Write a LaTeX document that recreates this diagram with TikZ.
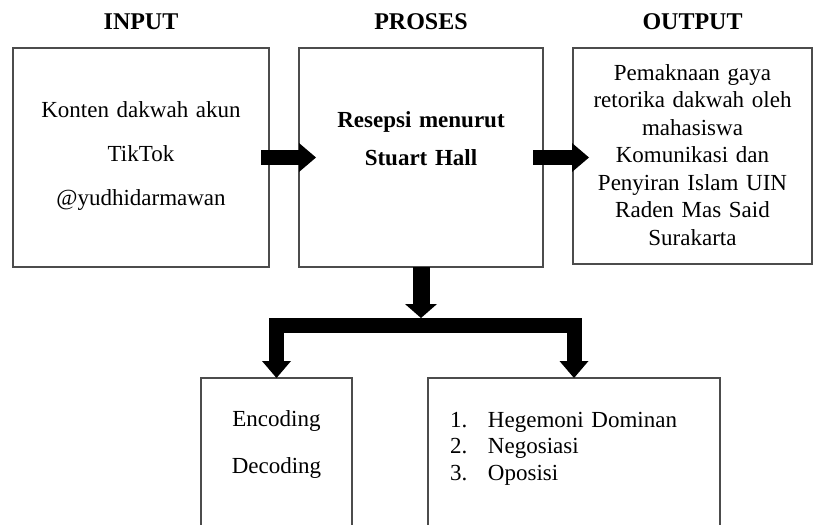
\documentclass[tikz,border=0pt]{standalone}
\usepackage{fontspec}
\setmainfont{Liberation Serif}
\usetikzlibrary{arrows.meta,positioning}

\tikzset{
  box/.style={rectangle, draw=black!70, line width=1.2pt, inner sep=0pt, outer sep=0pt, align=center},
  heading/.style={font=\fontsize{24}{28}\selectfont\bfseries, inner sep=0pt, outer sep=0pt},
  bigarrow/.style={line width=15pt, -{Triangle[width=29pt, length=17pt, line width=0pt]}},
  downarrow/.style={line width=17pt, -{Triangle[width=32pt, length=14pt, line width=0pt]}},
}

\begin{document}
\begin{tikzpicture}[x=1pt, y=1pt]
    \clip (0,0) rectangle (820,-525);

    % top row
    \node[box, font=\fontsize{23}{44}\selectfont, text width=256pt, text height=69pt, text depth=150pt] (input) at (141,-157.5) {Konten dakwah akun\\TikTok\\@yudhidarmawan};
    \node[box, font=\fontsize{23}{38}\selectfont\bfseries, text width=244pt, text height=79pt, text depth=140pt, right=30pt of input] (proses) {Resepsi menurut\\Stuart Hall};
    \node[box, font=\fontsize{23}{27.5}\selectfont, text width=239pt, text height=32pt, text depth=184pt, right=30pt of proses.north east, anchor=north west] (output) {Pemaknaan gaya\\retorika dakwah oleh\\mahasiswa\\Komunikasi dan\\Penyiran Islam UIN\\Raden Mas Said\\Surakarta};

    \node[heading, above=18pt of input] (inputlabel) {INPUT};
    \node[heading, above=18pt of proses] (proseslabel) {PROSES};
    \node[heading, above=18pt of output] (outputlabel) {OUTPUT};

    % bottom row
    \node[box, font=\fontsize{23}{47}\selectfont, text width=151pt, text height=48pt, text depth=160pt, anchor=north] (encdec) at (276.5,-378) {Encoding\\Decoding};
    \node[box, font=\fontsize{23}{26.5}\selectfont, align=left, text width=292pt, text height=49pt, text depth=160pt, right=76pt of encdec.north east, anchor=north west] (hegemoni) {\hspace*{22pt}\makebox[38pt][l]{1.}Hegemoni Dominan\\\hspace*{22pt}\makebox[38pt][l]{2.}Negosiasi\\\hspace*{22pt}\makebox[38pt][l]{3.}Oposisi};

    \coordinate (split) at (421,-318);
    \coordinate (junction) at (421,-325.5);

    \draw[bigarrow, shorten <=-8pt, shorten >=-17pt] (input.east) -- (proses.west);
    \draw[bigarrow, shorten <=-10pt, shorten >=-16pt] (proses.east) -- (output.west |- proses.east);
    \draw[downarrow] (proses.south) -- (split);
    \draw[bigarrow, line join=miter] (junction) -| (encdec.north);
    \draw[bigarrow, line join=miter] (junction) -| (hegemoni.north);
\end{tikzpicture}
\end{document}
